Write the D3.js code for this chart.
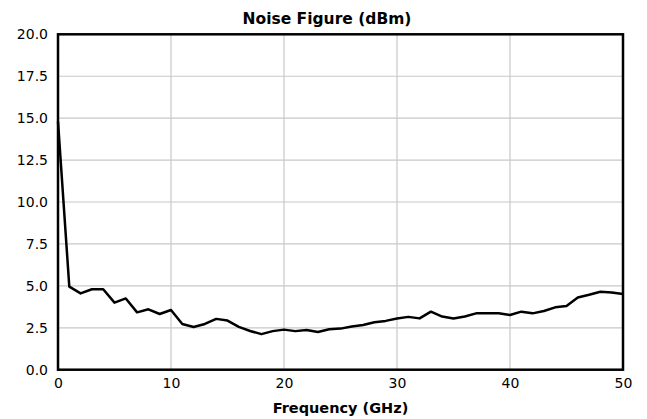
<!DOCTYPE html>
<html><head><meta charset="utf-8">
<script src="https://cdn.jsdelivr.net/npm/d3@7"></script>
<style>body{margin:0;background:#fff}svg{display:block}text{font-family:"DejaVu Sans",sans-serif}</style>
</head><body><svg id="c" width="647" height="419"></svg>
<script>
const title = "Noise Figure (dBm)";
const xLabel = "Frequency (GHz)";
const freqs = d3.range(0, 51);
const noise = [14.8,4.95,4.55,4.8,4.8,4.0,4.25,3.42,3.6,3.32,3.56,2.73,2.55,2.73,3.03,2.93,2.55,2.31,2.12,2.3,2.39,2.3,2.37,2.25,2.41,2.45,2.57,2.67,2.83,2.91,3.05,3.15,3.06,3.46,3.17,3.05,3.17,3.36,3.36,3.36,3.26,3.46,3.36,3.5,3.72,3.8,4.31,4.47,4.65,4.61,4.51];
const xTicks = [0,10,20,30,40,50];
const yTicks = [0,2.5,5,7.5,10,12.5,15,17.5,20];

const svg = d3.select("#c");
const L=58,R=623,T=34.3,B=369.7;
const x = d3.scaleLinear().domain([0,50]).range([L,R]);
const y = d3.scaleLinear().domain([0,20]).range([B,T]);

const g = svg.append("g");
g.selectAll(".vg").data(xTicks).join("line").attr("x1",d=>x(d)).attr("x2",d=>x(d)).attr("y1",T).attr("y2",B).attr("stroke","#c8c8c8").attr("stroke-width",1.2);
g.selectAll(".hg").data(yTicks).join("line").attr("y1",d=>y(d)).attr("y2",d=>y(d)).attr("x1",L).attr("x2",R).attr("stroke","#c8c8c8").attr("stroke-width",1.2);

const line = d3.line().x((d,i)=>x(freqs[i])).y(d=>y(d));
svg.append("path").datum(noise).attr("d",line).attr("fill","none").attr("stroke","#000").attr("stroke-width",2.5).attr("stroke-linejoin","round");

svg.append("rect").attr("x",L).attr("y",T).attr("width",R-L).attr("height",B-T).attr("fill","none").attr("stroke","#000").attr("stroke-width",2.5);

const xa = svg.append("g").attr("transform",`translate(0,${B})`).call(d3.axisBottom(x).tickValues(xTicks).tickSize(0).tickPadding(8).tickFormat(d3.format("d")));
xa.select(".domain").remove();
xa.selectAll("text").attr("font-size",14).attr("font-family","DejaVu Sans").attr("fill","#000");
const ya = svg.append("g").attr("transform",`translate(${L},0)`).call(d3.axisLeft(y).tickValues(yTicks).tickSize(0).tickPadding(10).tickFormat(d3.format(".1f")));
ya.select(".domain").remove();
ya.selectAll("text").attr("font-size",14).attr("font-family","DejaVu Sans").attr("fill","#000");

svg.append("text").attr("x",327).attr("y",24).attr("text-anchor","middle").attr("font-size",15.5).attr("font-weight","bold").text(title);
svg.append("text").attr("x",(L+R)/2).attr("y",413).attr("text-anchor","middle").attr("font-size",14.5).attr("font-weight","bold").text(xLabel);
</script></body></html>
